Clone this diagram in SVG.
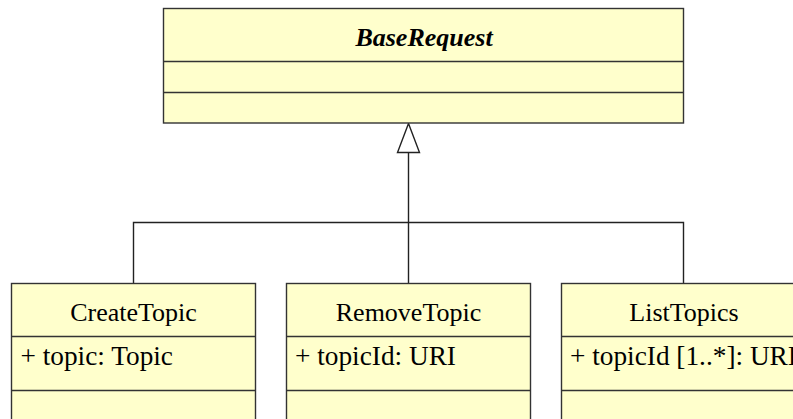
<svg xmlns="http://www.w3.org/2000/svg" width="793" height="419" viewBox="0 0 793 419">
<style>
.box{fill:#ffffcc;stroke:#333;stroke-width:1.4}
.div{stroke:#333;stroke-width:1.4;fill:none}
.name{font-family:"Liberation Serif","Times New Roman",serif;font-size:26px;fill:#000;text-anchor:middle}
.abs{font-weight:bold;font-style:italic}
.attr{font-family:"Liberation Serif","Times New Roman",serif;font-size:27.3px;fill:#000}
.conn{stroke:#222;stroke-width:1.4;fill:none}
.tri{fill:#fff;stroke:#222;stroke-width:1.4}
</style>
<rect width="793" height="419" fill="#fff"/>
<g id="connectors">
<line class="conn" x1="408.5" y1="283.5" x2="408.5" y2="152.5"/>
<polyline class="conn" points="133.5,283.5 133.5,222.5 683.5,222.5 683.5,283.5"/>
<polygon class="tri" points="408.5,123.5 397.5,152.5 419.5,152.5"/>
</g>
<g id="BaseRequest">
<rect class="box" x="163.5" y="8.5" width="520" height="114.5"/>
<line class="div" x1="163.5" y1="61.5" x2="683.5" y2="61.5"/>
<line class="div" x1="163.5" y1="92.5" x2="683.5" y2="92.5"/>
<text class="name abs" x="424" y="46" font-size="27">BaseRequest</text>
</g>
<g id="CreateTopic">
<rect class="box" x="11.5" y="283.5" width="244" height="150"/>
<line class="div" x1="11.5" y1="336.5" x2="255.5" y2="336.5"/>
<line class="div" x1="11.5" y1="390.5" x2="255.5" y2="390.5"/>
<text class="name" x="133.5" y="321">CreateTopic</text>
<text class="attr" x="20.5" y="365">+ topic: Topic</text>
</g>
<g id="RemoveTopic">
<rect class="box" x="286.5" y="283.5" width="244" height="150"/>
<line class="div" x1="286.5" y1="336.5" x2="530.5" y2="336.5"/>
<line class="div" x1="286.5" y1="390.5" x2="530.5" y2="390.5"/>
<text class="name" x="408.5" y="321">RemoveTopic</text>
<text class="attr" x="295" y="365">+ topicId: URI</text>
</g>
<g id="ListTopics">
<rect class="box" x="561.5" y="283.5" width="244" height="150"/>
<line class="div" x1="561.5" y1="336.5" x2="805.5" y2="336.5"/>
<line class="div" x1="561.5" y1="390.5" x2="805.5" y2="390.5"/>
<text class="name" x="684" y="321">ListTopics</text>
<text class="attr" x="570" y="365">+ topicId [1..*]: URI</text>
</g>
</svg>
